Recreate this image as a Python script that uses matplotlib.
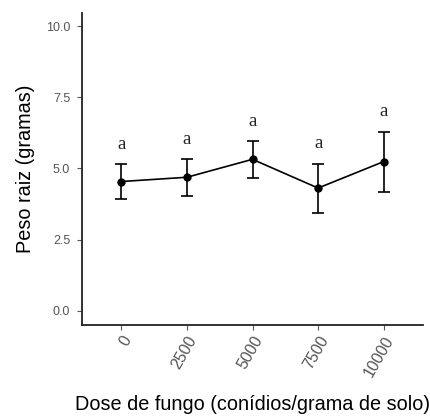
import numpy as np
import matplotlib
matplotlib.use('Agg')
import matplotlib.pyplot as plt

plt.rcParams['font.family'] = ['Liberation Sans', 'DejaVu Sans']

doses = ['0', '2500', '5000', '7500', '10000']
peso_medio = [4.54, 4.69, 5.32, 4.31, 5.24]
erro_sup = [5.15, 5.32, 5.96, 5.16, 6.29]
erro_inf = [3.93, 4.04, 4.65, 3.45, 4.16]
letras = ['a', 'a', 'a', 'a', 'a']

x = np.arange(len(doses))
media = np.array(peso_medio)
yerr = [media - np.array(erro_inf), np.array(erro_sup) - media]

fig = plt.figure(figsize=(4.31, 4.19), dpi=100)
ax = fig.add_axes([82 / 431, 1 - 325 / 419, (423 - 82) / 431, (325 - 13) / 419])

ax.errorbar(x, media, yerr=yerr, color='black', lw=1.2, marker='o', ms=5,
            capsize=4.4, capthick=1.2, elinewidth=1.2)

# letras do teste de medias acima das barras
for xi, top, lt in zip(x, erro_sup, letras):
    ax.text(xi, top + 0.7, lt, ha='center', va='center', fontsize=13.5,
            family='Liberation Serif', color='#222222')

ax.set_xlim(-0.6, 4.6)
ax.set_ylim(-0.5, 10.46)
ax.set_yticks([0, 2.5, 5, 7.5, 10])
ax.set_yticklabels(['0.0', '2.5', '5.0', '7.5', '10.0'])
ax.set_xticks(x)
ax.set_xticklabels(doses, rotation=60, ha='right', va='top', rotation_mode='anchor')

for s in ['top', 'right']:
    ax.spines[s].set_visible(False)
for s in ['left', 'bottom']:
    ax.spines[s].set_linewidth(1.3)
    ax.spines[s].set_color('#222222')
ax.tick_params(length=3.5, width=0.8, color='#555555', labelcolor='#555555')
ax.tick_params(axis='y', labelsize=9, pad=5)
ax.tick_params(axis='x', labelsize=11.5, pad=2.5)

ax.set_xlabel('Dose de fungo (conídios/grama de solo)', fontsize=14.3, color='black', labelpad=11)
ax.set_ylabel('Peso raiz (gramas)', fontsize=14.3, color='black', labelpad=8)

fig.savefig('out.png', dpi=100)
